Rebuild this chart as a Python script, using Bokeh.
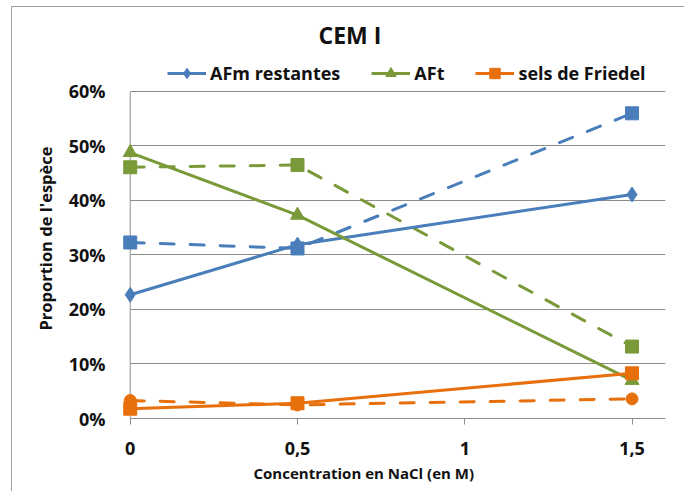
from bokeh.plotting import figure
from bokeh.models import (Legend, LegendItem, Title, NumeralTickFormatter,
                          FixedTicker, Range1d)
from bokeh.embed import file_html
from bokeh.resources import INLINE

# ---- data ----
conc = [0, 0.5, 1.5]
afm_restantes = [0.227, 0.319, 0.411]
aft = [0.488, 0.373, 0.070]
sels_friedel = [0.018, 0.028, 0.083]
afm_restantes_b = [0.323, 0.312, 0.560]
aft_b = [0.461, 0.465, 0.132]
sels_friedel_b = [0.033, 0.025, 0.036]

x_ticks = [0, 0.5, 1, 1.5]
x_tick_labels = ["0", "0,5", "1", "1,5"]
y_ticks = [0, 0.1, 0.2, 0.3, 0.4, 0.5, 0.6]

FONT = "Open Sans"
BLUE = "#4A7EBB"
GREEN = "#7A9A3A"
ORANGE = "#E8700C"
GRID = "#8C8C8C"
TXT = "#111111"
FRAME_LINE = "#A0A0A0"

p = figure(width=684, height=491, x_range=Range1d(-0.05, 1.6), y_range=Range1d(0, 0.66055),
           output_backend="svg", toolbar_location=None,
           min_border_left=113, min_border_right=19, min_border_top=58, min_border_bottom=73)
p.outline_line_color = None
p.background_fill_color = "white"
p.border_fill_alpha = 0
p.styles = {
    "background": (f"linear-gradient({FRAME_LINE},{FRAME_LINE}) 11px 6px / 1px 100% no-repeat, "
                   f"linear-gradient({FRAME_LINE},{FRAME_LINE}) 11px 6px / 100% 1px no-repeat, white"),
}

p.title.text = "CEM I"
p.title.text_font = FONT
p.title.text_font_style = "bold"
p.title.text_font_size = "23px"
p.title.text_color = TXT
p.title.align = "left"
p.title.offset = 205
p.title.standoff = 15

p.xgrid.grid_line_color = None
p.ygrid.grid_line_color = GRID
p.ygrid.grid_line_width = 1
p.ygrid.ticker = FixedTicker(ticks=y_ticks)
if "cross_bounds" in p.ygrid[0].properties():
    p.ygrid.cross_bounds = (0, 1.6)

# y axis
p.yaxis.ticker = FixedTicker(ticks=y_ticks)
p.yaxis.formatter = NumeralTickFormatter(format="0%")
p.yaxis.axis_line_color = None
p.yaxis.major_tick_line_color = None
p.yaxis.major_tick_out = 0
p.yaxis.major_tick_in = 0
p.yaxis.minor_tick_line_color = None
p.yaxis.minor_tick_out = 0
p.yaxis.major_label_standoff = 8
p.yaxis.major_label_text_font = FONT
p.yaxis.major_label_text_font_style = "bold"
p.yaxis.major_label_text_font_size = "18px"
p.yaxis.major_label_text_color = TXT
p.yaxis.axis_label = "Proportion de l'espèce"
p.yaxis.axis_label_text_font = FONT
p.yaxis.axis_label_text_font_style = "bold"
p.yaxis.axis_label_text_font_size = "16.5px"
p.yaxis.axis_label_text_color = TXT
p.yaxis.axis_label_standoff = 9

# vertical value-axis line at x = 0, from the first to the last y tick
p.segment(x0=[x_ticks[0]], y0=[y_ticks[0]], x1=[x_ticks[0]], y1=[y_ticks[-1]],
          line_color=GRID, line_width=1)

# x axis
p.xaxis.ticker = FixedTicker(ticks=x_ticks)
p.xaxis.major_label_overrides = {t: l for t, l in zip(x_ticks, x_tick_labels)}
p.xaxis.bounds = (0, 1.6)
p.xaxis.axis_line_color = GRID
p.xaxis.major_tick_line_color = GRID
p.xaxis.major_tick_out = 6
p.xaxis.major_tick_in = 0
p.xaxis.minor_tick_line_color = None
p.xaxis.minor_tick_out = 0
p.xaxis.major_label_standoff = 17
p.xaxis.major_label_text_font = FONT
p.xaxis.major_label_text_font_style = "bold"
p.xaxis.major_label_text_font_size = "18px"
p.xaxis.major_label_text_color = TXT

x_title = Title(text="Concentration en NaCl (en M)", align="left", offset=140,
                text_font=FONT, text_font_style="bold", text_font_size="15px",
                text_color=TXT, standoff=7)
p.add_layout(x_title, "below")

DASH = "14 16"
# dashed series
p.line(conc, afm_restantes_b, line_color=BLUE, line_width=3, line_dash=DASH, line_cap="round")
p.scatter(conc, afm_restantes_b, marker="square", size=13, color=BLUE)
p.line(conc, aft_b, line_color=GREEN, line_width=3, line_dash=DASH, line_cap="round")
p.scatter(conc, aft_b, marker="square", size=13, color=GREEN)
p.line(conc, sels_friedel_b, line_color=ORANGE, line_width=3, line_dash=DASH, line_cap="round")
p.scatter(conc, sels_friedel_b, marker="circle", size=12, color=ORANGE)

# solid series
l1 = p.line(conc, afm_restantes, line_color=BLUE, line_width=3)
s1 = p.scatter(conc, afm_restantes, marker="diamond", size=15, color=BLUE)
l2 = p.line(conc, aft, line_color=GREEN, line_width=3)
s2 = p.scatter(conc, aft, marker="triangle", size=14, color=GREEN)
l3 = p.line(conc, sels_friedel, line_color=ORANGE, line_width=3)
s3 = p.scatter(conc, sels_friedel, marker="square", size=13, color=ORANGE)

legend = Legend(items=[
    LegendItem(label="AFm restantes", renderers=[l1, s1]),
    LegendItem(label="AFt", renderers=[l2, s2]),
    LegendItem(label="sels de Friedel", renderers=[l3, s3]),
], orientation="horizontal", location=(54, 332))
legend.label_text_font = FONT
legend.label_text_font_style = "bold"
legend.label_text_font_size = "18px"
legend.label_text_color = TXT
legend.glyph_width = 39
legend.glyph_height = 26
legend.spacing = 31
legend.label_standoff = 4
legend.padding = 0
legend.margin = 0
legend.border_line_color = None
legend.background_fill_alpha = 0
p.add_layout(legend)

open("out.html", "w").write(file_html(p, INLINE))
